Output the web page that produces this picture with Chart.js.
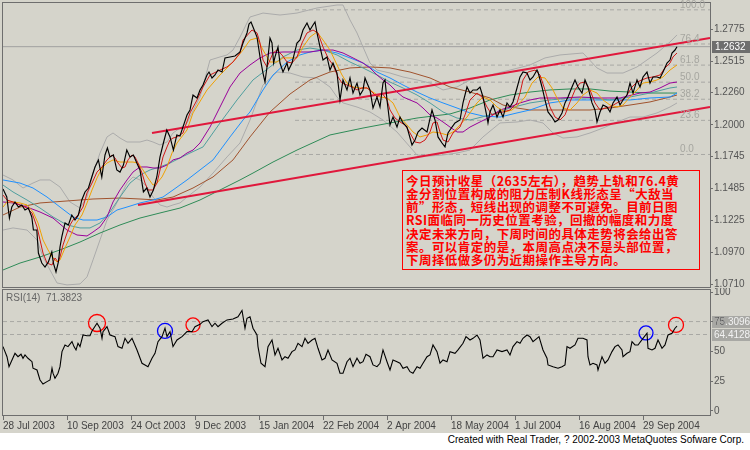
<!DOCTYPE html>
<html><head><meta charset="utf-8">
<script src="https://cdn.jsdelivr.net/npm/chart.js@4/dist/chart.umd.min.js"></script>
<style>
html,body{margin:0;padding:0;width:750px;height:450px;overflow:hidden;background:#fff;}
#wrap{position:absolute;left:0;top:0;width:750px;height:433px;background:#D5D4CB;}
#c1{position:absolute;left:0;top:0;}
#c2{position:absolute;left:0;top:288px;}
#note{position:absolute;left:402px;top:170px;width:298px;height:100px;border:1px solid #ff0000;background:#D5D4CB;
 color:#ff0000;font:bold 12.5px "Noto Sans CJK SC";line-height:13.15px;white-space:nowrap;padding:3px 0 0 3px;box-sizing:border-box;letter-spacing:0.45px;}
#credit{position:absolute;right:6px;top:434px;font:10px "Liberation Sans";color:#000;white-space:nowrap;}
</style></head>
<body>
<div id="wrap">
<canvas id="c1" width="750" height="288"></canvas>
<canvas id="c2" width="750" height="145"></canvas>
<div id="note">今日预计收星（2635左右），趋势上轨和76.4黄<br>金分割位置构成的阻力压制K线形态呈“大敌当<br>前”形态，短线出现的调整不可避免。目前日图<br>RSI面临同一历史位置考验，回撤的幅度和力度<br>决定未来方向，下周时间的具体走势将会给出答<br>案。可以肯定的是，本周高点决不是头部位置，<br>下周择低做多仍为近期操作主导方向。</div>
</div>
<div id="credit">Created with Real Trader, ? 2002-2003 MetaQuotes Sofware Corp.</div>
<script>
// ---- axis / labels ----
const tickIdx = [0,32,64,96,128,160,192,224,256,288,320];
const tickLabels = ['28 Jul 2003','10 Sep 2003','24 Oct 2003','9 Dec 2003','15 Jan 2004','22 Feb 2004','2 Apr 2004','18 May 2004','1 Jul 2004','16 Aug 2004','29 Sep 2004'];
const priceTicks = [1.2775,1.2515,1.2260,1.2000,1.1745,1.1485,1.1225,1.0970,1.0710];
const rsiTicks = [0,25,50,75,100];
const lastPrice = 1.2632;
const rsiLast = 71.3823;
const rsiLevels = [75.3096, 64.4128];
const fibLow = 1.1760, fibHigh = 1.2930, fibStartBar = 146;
const fibLevels = [0,23.6,38.2,50,61.8,76.4,100];
const lastBar = 353.5;

// ---- series: [bar index, value] ----
const price = [[0,1.1481],[1.9,1.1416],[3.2,1.1246],[4.4,1.1335],[6,1.1376],[7.7,1.1335],[9.4,1.1352],[11,1.1311],[12.7,1.1327],[14.4,1.1255],
[15.2,1.1149],[16.9,1.1149],[17.7,1.0963],[19.4,1.0882],[21,1.0850],[22.7,1.0891],[24.4,1.0971],[25.2,1.0882],[26.5,1.0810],[27.7,1.0891],
[28.5,1.1012],[29.4,1.1093],[31,1.1206],[32.7,1.1190],[34.4,1.1271],[36,1.1230],[37.7,1.1271],[39.4,1.1392],[41,1.1457],[42.7,1.1489],
[44.4,1.1578],[46,1.1659],[47.7,1.1716],[49.4,1.1578],[51,1.1756],[52.2,1.1813],[53.5,1.1740],[55.2,1.1756],[56.9,1.1635],[58.5,1.1618],
[60.2,1.1675],[61.9,1.1796],[63.5,1.1740],[65.2,1.1756],[66.9,1.1691],[68.5,1.1635],[70.2,1.1457],[71.9,1.1489],[73.5,1.1416],[75.2,1.1473],
[76.9,1.1578],[78.5,1.1740],[80.2,1.1853],[81.9,1.1958],[83.5,1.1902],[85.2,1.1796],[86.9,1.1918],[88.5,1.1910],[90,1.1983],[92,1.2079],
[93.5,1.2120],[95,1.2241],[97,1.2217],[98.5,1.2282],[100,1.2322],[102,1.2403],[103,1.2427],[104.5,1.2379],[106,1.2403],[107.5,1.2443],
[109.5,1.2427],[111,1.2541],[113.5,1.2549],[116,1.2557],[118.5,1.2589],[120,1.2662],[122,1.2743],[123,1.2815],[124,1.2832],[125,1.2791],
[127,1.2710],[128.5,1.2549],[130,1.2419],[131,1.2346],[132,1.2468],[133.5,1.2702],[134.5,1.2662],[135.3,1.2500],[136,1.2549],[137.5,1.2630],
[138.5,1.2500],[140,1.2427],[142,1.2500],[142.8,1.2443],[144.5,1.2500],[147,1.2662],[148.5,1.2686],[150,1.2767],[152,1.2824],[153.5,1.2767],
[155,1.2807],[156,1.2832],[157,1.2743],[158.5,1.2630],[160,1.2524],[162,1.2549],[163.5,1.2443],[165,1.2500],[167,1.2419],[168.5,1.2201],
[170,1.2363],[172,1.2282],[173.5,1.2379],[175,1.2257],[177,1.2338],[178.5,1.2241],[180,1.2282],[181,1.2379],[182,1.2338],[183.5,1.2282],
[185,1.2136],[187,1.2225],[188.5,1.2144],[190,1.2338],[191,1.2363],[192,1.2201],[193.5,1.1999],[195,1.2063],[197,1.1982],[198.5,1.2063],
[200,1.2015],[202,1.1982],[204.5,1.1837],[206,1.1877],[207.5,1.1942],[209.5,1.1974],[212,1.1942],[214.5,1.2120],[216,1.2039],[217.5,1.1902],
[219.5,1.1853],[221,1.1821],[222.5,1.1934],[224.5,1.1982],[226,1.2015],[228.5,1.2039],[230,1.2177],[232,1.2306],[233.5,1.2257],[235,1.2282],
[237,1.2282],[238.5,1.2306],[240,1.2225],[241,1.2144],[242,1.2063],[242.5,1.2015],[243.5,1.2104],[245,1.2160],[247,1.2063],[248.5,1.2120],
[250,1.2063],[252,1.2177],[253.5,1.2144],[255,1.2185],[257,1.2298],[258.5,1.2387],[260,1.2427],[262,1.2419],[263.5,1.2363],[265,1.2387],
[267,1.2443],[267.5,1.2427],[269.5,1.2306],[271,1.2201],[272.5,1.2104],[274.5,1.2063],[276,1.2023],[277.5,1.2039],[279.5,1.2096],[281,1.2177],
[282.5,1.2225],[284.5,1.2306],[286,1.2363],[287.5,1.2306],[289.5,1.2257],[291,1.2363],[292.5,1.2306],[294.5,1.2177],[296,1.2120],[297,1.2023],
[298.5,1.2104],[300,1.2160],[302,1.2144],[303.5,1.2104],[305,1.2177],[307,1.2225],[308.5,1.2160],[310,1.2201],[312,1.2241],[313.5,1.2338],
[315,1.2257],[317,1.2363],[318.5,1.2306],[320,1.2387],[322,1.2427],[323.5,1.2338],[325,1.2387],[327,1.2387],[328.5,1.2379],[330,1.2427],
[332,1.2500],[333.5,1.2524],[334.5,1.2581],[336,1.2605],[337,1.2632]];

const maRed = [[0,1.1432],[2,1.1392],[5,1.1376],[8.5,1.1352],[12,1.1327],[14.5,1.1287],[17,1.1174],[18.5,1.1069],[20,1.0963],[22,1.0882],[24.5,1.0866],[26,1.0923],[27.5,1.0891],[28.5,1.0931],[30,1.1028],[32,1.1125],[33.5,1.1190],[35,1.1230],[37.5,1.1271],[40,1.1335],[42,1.1449],[44.5,1.1529],[47,1.1618],[49.5,1.1659],[52,1.1716],[54.5,1.1756],[56,1.1732],[57.5,1.1691],[59.5,1.1651],[61,1.1659],[62.5,1.1716],[64.5,1.1756],[66,1.1740],[67.5,1.1691],[69.5,1.1610],[71,1.1529],[72.5,1.1473],[75,1.1473],[77,1.1529],[78.5,1.1635],[80,1.1740],[82,1.1821],[83.5,1.1877],[85,1.1893],[87,1.1902],[90,1.1934],[93.5,1.2096],[97,1.2201],[100,1.2306],[103.5,1.2403],[108.5,1.2443],[112,1.2468],[115,1.2508],[118.5,1.2581],[120,1.2686],[124.5,1.2767],[127,1.2743],[128.5,1.2662],[130,1.2524],[132,1.2468],[133.5,1.2524],[135,1.2581],[137,1.2605],[139.5,1.2565],[142,1.2508],[144.5,1.2500],[147,1.2549],[149.5,1.2662],[152,1.2743],[155,1.2767],[157.5,1.2743],[160,1.2630],[162.5,1.2541],[165,1.2484],[167.5,1.2387],[169.5,1.2338],[172,1.2322],[174.5,1.2306],[177,1.2282],[179.5,1.2298],[182,1.2298],[184.5,1.2265],[187,1.2225],[189.5,1.2257],[192,1.2201],[193.5,1.2120],[196,1.2055],[198.5,1.2023],[201,1.1999],[203.5,1.1934],[206,1.1861],[208.5,1.1853],[211,1.1877],[213.5,1.1942],[215,1.2015],[217,1.2023],[218.5,1.1942],[220,1.1877],[222.5,1.1861],[225,1.1934],[228.5,1.1982],[231,1.2080],[233.5,1.2201],[237,1.2257],[239.5,1.2225],[242,1.2144],[244.5,1.2080],[247,1.2096],[250,1.2104],[253.5,1.2120],[257,1.2177],[258.5,1.2257],[260,1.2363],[262.5,1.2427],[266,1.2443],[268.5,1.2403],[271,1.2282],[273.5,1.2144],[276,1.2063],[278.5,1.2039],[281,1.2080],[283.5,1.2185],[286,1.2282],[288.5,1.2338],[291,1.2346],[293.5,1.2282],[296,1.2177],[298.5,1.2120],[301,1.2136],[303.5,1.2144],[307,1.2177],[309.5,1.2201],[312,1.2241],[314.5,1.2306],[317,1.2346],[319.5,1.2363],[322,1.2379],[325,1.2387],[328.5,1.2403],[331,1.2460],[333.5,1.2500],[335,1.2549],[337,1.2581]];

const maOrange = [[0,1.1335],[2,1.1376],[5,1.1376],[8.5,1.1368],[12,1.1352],[15,1.1295],[17.5,1.1206],[20,1.1069],[22.5,1.0988],[25,1.0923],[27,1.0891],[28.5,1.0907],[31,1.1004],[33.5,1.1093],[36,1.1190],[39.5,1.1271],[42,1.1368],[44.5,1.1473],[47,1.1570],[49.5,1.1651],[52,1.1691],[55,1.1716],[58.5,1.1699],[62,1.1699],[65,1.1699],[67.5,1.1691],[70,1.1635],[72.5,1.1570],[75,1.1513],[77,1.1529],[79.5,1.1578],[82,1.1659],[84.5,1.1772],[87,1.1853],[92,1.1958],[95,1.2096],[102,1.2282],[108.5,1.2403],[115,1.2508],[120,1.2605],[123.5,1.2686],[127,1.2702],[130,1.2605],[133.5,1.2508],[137,1.2508],[140,1.2541],[143.5,1.2541],[147,1.2541],[150,1.2630],[153.5,1.2710],[157,1.2751],[160,1.2686],[163.5,1.2605],[167,1.2484],[169.5,1.2403],[172,1.2338],[175,1.2306],[178.5,1.2298],[182,1.2298],[185,1.2265],[188.5,1.2225],[192,1.2217],[195,1.2177],[198.5,1.2063],[202,1.1999],[205,1.1942],[208.5,1.1902],[212,1.1918],[215,1.1942],[218.5,1.1934],[222,1.1918],[225,1.1942],[228.5,1.1999],[232,1.2063],[237,1.2177],[240,1.2225],[243.5,1.2201],[247,1.2144],[251,1.2104],[254.5,1.2120],[257.5,1.2160],[261,1.2225],[264.5,1.2338],[267.5,1.2387],[271,1.2379],[274.5,1.2298],[277,1.2217],[280,1.2136],[283.5,1.2120],[287,1.2177],[290,1.2241],[293.5,1.2282],[297,1.2257],[300,1.2201],[303.5,1.2160],[307,1.2144],[310,1.2160],[313.5,1.2225],[317,1.2282],[320,1.2338],[323.5,1.2346],[327,1.2363],[330,1.2387],[333.5,1.2443],[337,1.2484]];

const maPurple = [[0,1.1376],[5,1.1368],[12,1.1335],[18.5,1.1295],[25,1.1246],[32,1.1149],[37,1.1109],[42,1.1101],[45,1.1133],[48.5,1.1174],[52,1.1255],[55,1.1376],[58.5,1.1473],[62,1.1554],[65,1.1618],[68.5,1.1659],[72,1.1659],[75,1.1651],[78.5,1.1651],[82,1.1675],[85,1.1716],[88.5,1.1732],[92,1.1772],[95,1.1796],[98.5,1.1853],[103.5,1.1982],[108.5,1.2144],[113.5,1.2306],[118.5,1.2419],[123.5,1.2484],[128.5,1.2541],[133.5,1.2581],[140,1.2589],[147,1.2589],[153.5,1.2589],[160,1.2605],[165,1.2605],[170,1.2581],[175,1.2541],[180,1.2500],[183.5,1.2460],[187,1.2403],[190,1.2363],[193.5,1.2322],[197,1.2265],[200,1.2225],[203.5,1.2201],[207,1.2177],[210,1.2136],[213.5,1.2080],[217,1.2055],[220,1.2023],[223.5,1.1982],[227,1.1942],[230,1.1942],[233.5,1.1982],[238.5,1.2023],[243.5,1.2063],[248.5,1.2120],[253.5,1.2144],[258.5,1.2177],[263.5,1.2201],[268.5,1.2217],[278.5,1.2217],[288.5,1.2225],[298.5,1.2217],[308.5,1.2217],[318.5,1.2257],[323.5,1.2265],[328.5,1.2298],[333.5,1.2338],[337,1.2346]];

const maTeal = [[0,1.1513],[5,1.1457],[12,1.1392],[18.5,1.1327],[25,1.1255],[32,1.1190],[38.5,1.1166],[43.5,1.1166],[48.5,1.1206],[53.5,1.1295],[58.5,1.1416],[63.5,1.1529],[68.5,1.1594],[73.5,1.1635],[78.5,1.1659],[83.5,1.1691],[88.5,1.1732],[93.5,1.1772],[100,1.1821],[108.5,1.2015],[117,1.2201],[125,1.2363],[133.5,1.2468],[140,1.2549],[147,1.2605],[153.5,1.2621],[160,1.2605],[167,1.2565],[173.5,1.2508],[180,1.2460],[187,1.2403],[193.5,1.2346],[200,1.2298],[207,1.2241],[213.5,1.2177],[220,1.2104],[227,1.2055],[233.5,1.2039],[243.5,1.2080],[253.5,1.2136],[263.5,1.2177],[273.5,1.2201],[283.5,1.2217],[293.5,1.2217],[303.5,1.2201],[313.5,1.2225],[323.5,1.2257],[333.5,1.2298],[337,1.2306]];

const maBlue = [[0,1.1554],[8.5,1.1529],[15,1.1489],[22,1.1416],[28.5,1.1335],[35,1.1255],[40,1.1230],[47,1.1230],[52,1.1255],[57,1.1311],[62,1.1335],[68.5,1.1368],[75,1.1392],[80,1.1416],[85,1.1473],[92,1.1554],[98.5,1.1635],[105,1.1716],[113.5,1.1902],[120,1.2039],[123.5,1.2104],[130,1.2282],[135,1.2403],[142,1.2508],[148.5,1.2565],[153.5,1.2589],[160,1.2605],[167,1.2581],[173.5,1.2541],[180,1.2500],[187,1.2427],[193.5,1.2379],[200,1.2322],[207,1.2265],[213.5,1.2217],[220,1.2177],[227,1.2136],[233.5,1.2096],[240,1.2071],[248.5,1.2063],[257,1.2096],[263.5,1.2120],[273.5,1.2177],[283.5,1.2201],[293.5,1.2201],[303.5,1.2201],[313.5,1.2201],[323.5,1.2217],[333.5,1.2225],[337,1.2257]];

const maBrown = [[0,1.1271],[8.5,1.1335],[18.5,1.1368],[32,1.1384],[45,1.1400],[58.5,1.1408],[68.5,1.1400],[77,1.1392],[85,1.1416],[95,1.1489],[105,1.1578],[115,1.1716],[123.5,1.1902],[133.5,1.2104],[143.5,1.2249],[153.5,1.2363],[163.5,1.2427],[173.5,1.2460],[183.5,1.2468],[193.5,1.2460],[203.5,1.2427],[213.5,1.2379],[223.5,1.2306],[233.5,1.2265],[243.5,1.2217],[250,1.2160],[257,1.2136],[263.5,1.2120],[273.5,1.2120],[283.5,1.2120],[293.5,1.2120],[303.5,1.2136],[313.5,1.2160],[323.5,1.2185],[333.5,1.2225],[337,1.2241]];

const maGreen = [[0,1.0826],[8.5,1.0882],[18.5,1.0931],[28.5,1.0988],[38.5,1.1052],[48.5,1.1125],[58.5,1.1190],[68.5,1.1246],[78.5,1.1287],[88.5,1.1327],[98.5,1.1392],[108.5,1.1473],[118.5,1.1554],[125,1.1610],[135,1.1699],[147,1.1796],[163.5,1.1918],[180,1.1974],[193.5,1.2015],[207,1.2055],[223.5,1.2088],[233.5,1.2136],[243.5,1.2201],[253.5,1.2241],[263.5,1.2265],[273.5,1.2282],[283.5,1.2290],[293.5,1.2290],[303.5,1.2273],[313.5,1.2265],[323.5,1.2257],[337,1.2257]];

const bandUpper = [[0,1.1594],[5,1.1554],[10,1.1489],[15,1.1529],[18.5,1.1554],[23.5,1.1554],[28.5,1.1497],[33.5,1.1376],[38.5,1.1327],[42,1.1416],[45,1.1610],[48.5,1.1772],[52,1.1902],[55,1.1934],[58.5,1.1893],[62,1.1861],[68.5,1.1861],[72,1.1877],[75,1.1861],[78.5,1.1837],[82,1.1861],[85,1.1934],[88.5,1.1974],[92,1.2015],[98.5,1.2225],[103.5,1.2524],[108.5,1.2549],[112,1.2565],[115,1.2605],[118.5,1.2710],[122,1.2824],[123.5,1.2872],[130,1.2904],[138.5,1.2888],[147,1.2904],[157,1.2945],[167,1.2969],[170,1.2969],[173.5,1.2848],[177,1.2743],[180,1.2630],[183.5,1.2500],[187,1.2443],[193.5,1.2419],[200,1.2387],[207,1.2363],[213.5,1.2338],[220,1.2282],[227,1.2306],[233.5,1.2363],[243.5,1.2403],[253.5,1.2443],[263.5,1.2484],[271,1.2541],[278.5,1.2565],[290,1.2581],[297,1.2460],[302,1.2419],[310,1.2419],[317,1.2468],[327,1.2581],[333.5,1.2670],[337,1.2727]];

const bandLower = [[0,1.1149],[5,1.1166],[12,1.1149],[17,1.1069],[20,1.0931],[23.5,1.0826],[27,1.0721],[32,1.0705],[38.5,1.0713],[42,1.0770],[45,1.0907],[48.5,1.1069],[52,1.1230],[55,1.1311],[58.5,1.1416],[62,1.1529],[65,1.1578],[68.5,1.1554],[72,1.1497],[75,1.1416],[78.5,1.1352],[82,1.1335],[85,1.1352],[88.5,1.1368],[92,1.1416],[98.5,1.1497],[105,1.1610],[112,1.1740],[118.5,1.1853],[123.5,1.2039],[130,1.2322],[137,1.2427],[143.5,1.2419],[150,1.2387],[157,1.2379],[163.5,1.2306],[167,1.2225],[170,1.2177],[177,1.2144],[183.5,1.2104],[190,1.2039],[197,1.1942],[203.5,1.1821],[207,1.1756],[213.5,1.1748],[220,1.1756],[227,1.1772],[233.5,1.1796],[240,1.1902],[248.5,1.2015],[257,1.2023],[263.5,1.2039],[270,1.2015],[275,1.1934],[280,1.1893],[287,1.1902],[293.5,1.1934],[300,1.1974],[307,1.2023],[313.5,1.2063],[320,1.2063],[327,1.2096],[333.5,1.2144],[337,1.2177]];

const trendUpper = [[74.5,1.1934],[353.5,1.2702]];
const trendLower = [[67.5,1.1352],[353.5,1.2144]];

const rsi = [[0,54.2],[2,45.7],[3,37.3],[4.5,43],[6,48.6],[7.5,45.7],[9,47.8],[10,44.4],[11,47.2],[12.5,44.4],[14.5,41.5],[15,36],[17,34.5],[18.5,26.1],[20,22.7],[22,24.7],[23.5,26.1],[24.5,36],[25,31.8],[26,27.5],[27.5,31.8],[28.5,37.3],[29.5,50],[31,55.6],[32.5,54.2],[34.5,58.4],[35.5,54.2],[36.5,51.4],[37.5,57],[38.5,54.2],[40,64],[42,63.4],[43.5,63.4],[44.5,67.4],[47,73.9],[48.5,69.7],[49.5,61.2],[50,66.8],[52,71],[53.5,64],[56,62.6],[57.5,54.2],[59.5,52.8],[61,61.2],[62.5,57],[64.5,61.2],[67,51.4],[69.5,40.2],[71,38.8],[72.5,37.3],[74.5,44.4],[76,48.6],[77.5,58.4],[79.5,62.6],[81,69.7],[82,62.6],[83.5,66.8],[85,54.2],[87,59.8],[89.5,62.6],[92,66.8],[94.5,66.8],[96,71],[98.5,73],[100,75.2],[102.5,76.7],[104.5,71],[106,73.9],[107.5,71],[109.5,73.9],[112,76.7],[115,77.5],[117.5,79.4],[119.5,84.7],[121,69.7],[122,78.1],[123.5,79.4],[125,69.7],[127,64],[127.5,54.2],[129,40.2],[131,37.3],[132.5,54.2],[134.5,59.8],[136,47.2],[137.5,52.8],[139.5,43],[141,45.7],[142.5,44.4],[144.5,50],[146,51.4],[147.5,57],[149.5,54.2],[151,61.2],[152.5,57],[154.5,59.8],[156,61.2],[157.5,52.8],[159.5,43],[161,44.4],[162.5,51.4],[164.5,43],[167,40.2],[168.5,31.8],[170,31.8],[172,41.5],[173.5,44.4],[175,37.3],[177,44.4],[178.5,40.2],[180,41.5],[181.5,47.8],[183.5,45.7],[185,38.8],[187,37.3],[188.5,40.2],[190,51.4],[192,41.5],[193.5,34.5],[195,43],[197,41.5],[198.5,40.2],[200,36],[202,37.3],[203.5,33.1],[205,31.8],[207,37.3],[208.5,36],[210,40.2],[212,45.7],[213.5,47.2],[215,55.6],[217,50],[218.5,40.2],[220,43],[222,41.5],[223.5,50],[226,48.6],[227.5,51.4],[230,57],[231.5,62.6],[233.5,59.8],[235,61.2],[237,64],[238.5,59.8],[240,44.4],[242,47.2],[243.5,45.7],[245,45.7],[247,51.4],[249.5,50],[252,51.4],[253.5,47.2],[255,54.2],[257,58.4],[258.5,57],[260,61.2],[262,64],[263.5,62.6],[265,58.4],[267,61.2],[268,62.6],[270,51.4],[272,44.4],[272.5,38.8],[275,37.3],[277.5,36],[279.5,37.3],[281,38.8],[282,54.2],[283.5,52.8],[286,55.6],[287.5,61.2],[290,61.2],[292,59.8],[292.5,45.7],[293.5,38.8],[295,40.2],[297,38.8],[297.5,34.5],[299.5,45.7],[301,40.2],[302.5,43],[304.5,50],[306,54.2],[307.5,55.6],[309.5,51.4],[310,45.7],[312,48.6],[313.5,50],[314.5,58.4],[316,55.6],[317.5,55.6],[320,61.2],[322,65.5],[322.5,52.8],[324.5,51.4],[326,52.8],[327.5,59.8],[329.5,52.8],[331,55.6],[332.5,64],[334.5,65.5],[336,69.7],[337,71.4]];

const rsiCircles = [[47,74.1],[81,67.4],[95,72.5],[321.5,65.7],[336.5,72.5]];
const rsiCircleColors = ['#ff0000','#0000ff','#ff0000','#0000ff','#ff0000'];

// ---- helpers ----
const xy = a => a.map(p => ({x:p[0], y:p[1]}));
const hline = (v, x0) => [{x:x0, y:v},{x:lastBar, y:v}];
const FONT = 'Liberation Sans';
const AX = '#6E6E6E';

const line = (data, color, w, extra) => Object.assign({data: xy(data), borderColor: color, borderWidth: w, pointRadius: 0, fill:false, tension:0}, extra||{});

// ---- main chart ----
const ds1 = [
  line(price, '#000000', 1.15),
  line(trendUpper, '#E0183C', 2),
  line(trendLower, '#E0183C', 2),
  line(maRed, '#D01818', 1),
  line(maOrange, '#F0A000', 1),
  line(maPurple, '#990099', 1),
  line(maTeal, '#4F9E9E', 1),
  line(maBlue, '#1E90FF', 1),
  line(maBrown, '#A0522D', 1),
  line(maGreen, '#2E8B57', 1),
  line(bandUpper, '#ABABAB', 1),
  line(bandLower, '#ABABAB', 1),
  {data: hline(lastPrice, 0), borderColor:'#A0A0A0', borderWidth:1, pointRadius:0}
];
fibLevels.forEach(l => {
  ds1.push({data: hline(fibLow + (fibHigh - fibLow) * l / 100, fibStartBar), borderColor:'#A8A8A4', borderWidth:1, borderDash:[4,3], pointRadius:0});
});

const frame = {
  id:'frame',
  afterDraw(c){
    const ctx = c.ctx, a = c.chartArea;
    ctx.save();
    ctx.strokeStyle = AX; ctx.lineWidth = 1;
    ctx.strokeRect(Math.round(a.left)-0.5, Math.round(a.top)-0.5, Math.round(a.right-a.left)+1, Math.round(a.bottom-a.top)+1);
    ctx.restore();
  }
};

const mainOverlay = {
  id:'mainOverlay',
  afterDraw(c){
    const ctx = c.ctx, ys = c.scales.y, xs = c.scales.x;
    ctx.save();
    ctx.font = '10px "' + FONT + '"';
    ctx.fillStyle = '#A6A6A0'; ctx.textAlign = 'left'; ctx.textBaseline = 'alphabetic';
    const lx = xs.getPixelForValue(338.5);
    fibLevels.forEach(l => {
      const v = fibLow + (fibHigh - fibLow) * l / 100;
      ctx.fillText(l.toFixed(1), lx, ys.getPixelForValue(v) - 2);
    });
    const py = Math.round(ys.getPixelForValue(lastPrice));
    ctx.fillStyle = '#6E6E6E';
    ctx.fillRect(c.chartArea.right + 2, py - 6, 38, 12);
    ctx.fillStyle = '#FFFFFF'; ctx.textBaseline = 'middle';
    ctx.fillText(lastPrice.toFixed(4), c.chartArea.right + 5, py + 0.5);
    ctx.restore();
  }
};

new Chart(document.getElementById('c1'), {
  type:'line',
  data:{datasets: ds1},
  options:{
    responsive:false, animation:false, events:[],
    layout:{autoPadding:false, padding:{left:3, top:3, right:0, bottom:1}},
    plugins:{legend:{display:false}, tooltip:{enabled:false}},
    scales:{
      x:{type:'linear', min:0, max:lastBar, display:false},
      y:{position:'right', min:1.06883, max:1.29853,
         afterBuildTicks: s => { s.ticks = priceTicks.map(v => ({value:v})); },
         afterFit: s => { s.width = 40; s.paddingTop = 0; s.paddingBottom = 0; },
         ticks:{callback: v => Number(v).toFixed(4), color:'#555555', font:{family:FONT, size:10}, padding:1, autoSkip:false},
         grid:{drawOnChartArea:false, tickLength:3, color:AX},
         border:{color:AX}}
    }
  },
  plugins:[frame, mainOverlay]
});

// ---- RSI chart ----
const ds2 = [
  line(rsi, '#000000', 1.1),
  {type:'scatter', data: xy(rsiCircles), showLine:false, pointRadius:[8.5,7.5,7,7,7.5], pointStyle:'circle',
   pointBorderColor: rsiCircleColors, pointBackgroundColor:'rgba(0,0,0,0)', pointBorderWidth:1.3},
  {data: hline(rsiLevels[0], 0), borderColor:'#A8A8A4', borderWidth:1, borderDash:[4,3], pointRadius:0},
  {data: hline(rsiLevels[1], 0), borderColor:'#A8A8A4', borderWidth:1, borderDash:[4,3], pointRadius:0}
];

const rsiOverlay = {
  id:'rsiOverlay',
  beforeDraw(c){
    const ctx = c.ctx, ys = c.scales.y, a = c.chartArea;
    ctx.save();
    ctx.font = '10px "' + FONT + '"';
    rsiLevels.forEach(v => {
      const y = Math.round(ys.getPixelForValue(v));
      ctx.fillStyle = '#A8A8A4';
      ctx.fillRect(a.right + 2, y - 6, 38, 12);
      ctx.fillStyle = '#F2F2F2'; ctx.textAlign = 'left'; ctx.textBaseline = 'middle';
      ctx.fillText(v.toFixed(4), a.right + 4, y + 0.5);
    });
    ctx.restore();
  },
  afterDraw(c){
    const ctx = c.ctx, a = c.chartArea;
    ctx.save();
    ctx.font = '10px "' + FONT + '"';
    ctx.fillStyle = '#666666'; ctx.textAlign = 'left'; ctx.textBaseline = 'middle';
    ctx.fillText('RSI(14)  ' + rsiLast.toFixed(4), a.left + 3, a.top + 8);
    ctx.restore();
  }
};

new Chart(document.getElementById('c2'), {
  type:'line',
  data:{datasets: ds2},
  options:{
    responsive:false, animation:false, events:[],
    layout:{autoPadding:false, padding:{left:3, top:2, right:0, bottom:0}},
    plugins:{legend:{display:false}, tooltip:{enabled:false}},
    scales:{
      x:{type:'linear', min:0, max:lastBar, position:'bottom',
         afterBuildTicks: s => { s.ticks = tickIdx.map(v => ({value:v})); },
         afterFit: s => { s.height = 18; s.paddingLeft = 0; s.paddingRight = 0; },
         ticks:{callback: v => tickLabels[tickIdx.indexOf(v)] || '', align:'start', maxRotation:0, autoSkip:false,
                color:'#444444', font:{family:FONT, size:10}, padding:0},
         grid:{drawOnChartArea:false, tickLength:5, color:AX},
         border:{color:AX}},
      y:{position:'right', min:-3.4, max:101.9,
         afterBuildTicks: s => { s.ticks = rsiTicks.map(v => ({value:v})); },
         afterFit: s => { s.width = 40; s.paddingTop = 0; s.paddingBottom = 0; },
         ticks:{color:'#555555', font:{family:FONT, size:10}, padding:1, autoSkip:false},
         grid:{drawOnChartArea:false, tickLength:3, color:AX},
         border:{color:AX}}
    }
  },
  plugins:[frame, rsiOverlay]
});
</script>
</body></html>
